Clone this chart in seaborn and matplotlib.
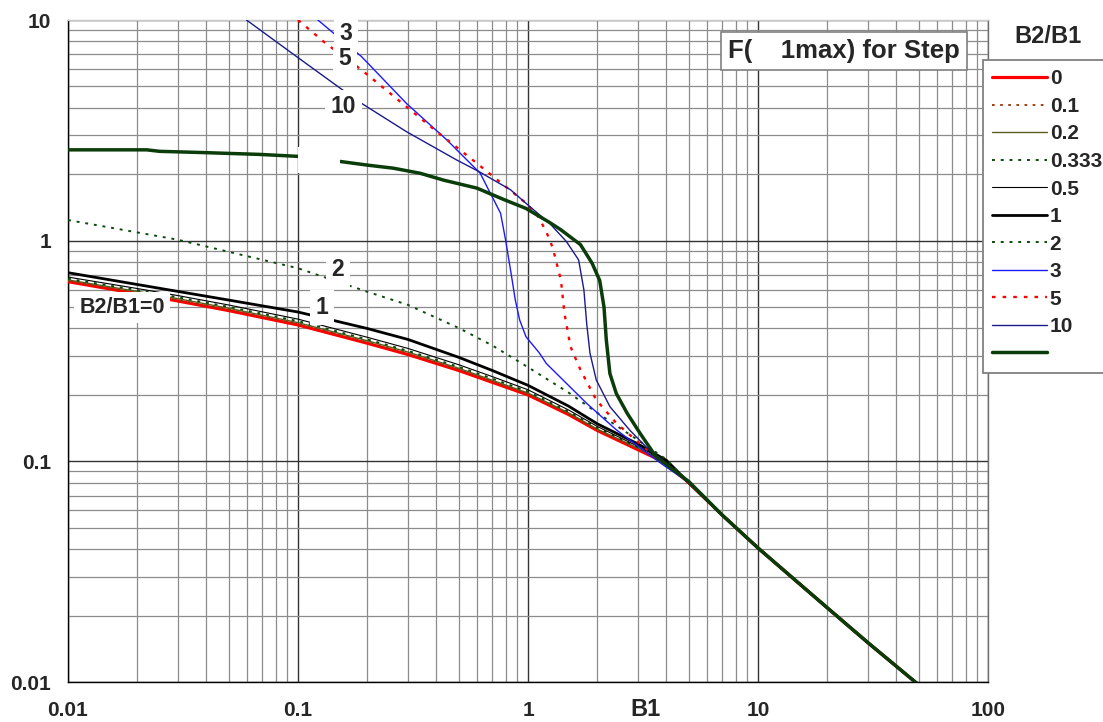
import matplotlib
matplotlib.use("Agg")
import matplotlib.pyplot as plt
from matplotlib.lines import Line2D
from matplotlib.patches import Rectangle
from matplotlib.ticker import LogLocator, NullFormatter, FixedLocator, FixedFormatter
import pandas as pd
import seaborn as sns

sns.set_style("white")
plt.rcParams["font.family"] = ["Liberation Sans", "DejaVu Sans"]
plt.rcParams["font.weight"] = "bold"

# ---- data: F(theta1max) against B1 for each B2/B1 ratio ----
b1_common = [0.01, 0.02, 0.03, 0.05, 0.1, 0.2, 0.3, 0.5, 0.7, 1, 1.5, 2, 3, 4,
             5, 7, 10, 15, 20, 30, 50]
f_r0 = [0.652, 0.575, 0.533, 0.482, 0.415, 0.343, 0.305, 0.258, 0.228, 0.200,
        0.163, 0.138, 0.113, 0.098, 0.080, 0.057, 0.0405, 0.0281, 0.0217, 0.0151, 0.0097]
f_r01 = [0.656, 0.580, 0.538, 0.487, 0.419, 0.347, 0.308, 0.261, 0.230, 0.202,
         0.164, 0.139, 0.114, 0.098, 0.080, 0.057, 0.0405, 0.0281, 0.0217, 0.0151, 0.0097]
f_r02 = [0.664, 0.589, 0.546, 0.494, 0.425, 0.352, 0.313, 0.264, 0.233, 0.204,
         0.166, 0.140, 0.115, 0.099, 0.080, 0.057, 0.0405, 0.0281, 0.0217, 0.0151, 0.0097]
f_r0333 = [0.672, 0.597, 0.554, 0.501, 0.432, 0.357, 0.317, 0.268, 0.237, 0.207,
           0.168, 0.142, 0.116, 0.099, 0.080, 0.057, 0.0405, 0.0281, 0.0217, 0.0151, 0.0097]
f_r05 = [0.684, 0.607, 0.564, 0.511, 0.441, 0.365, 0.325, 0.274, 0.242, 0.211,
         0.171, 0.144, 0.117, 0.100, 0.080, 0.057, 0.0405, 0.0281, 0.0217, 0.0151, 0.0097]
f_r1 = [0.716, 0.633, 0.589, 0.538, 0.475, 0.400, 0.357, 0.296, 0.258, 0.221,
        0.178, 0.148, 0.120, 0.101, 0.080, 0.057, 0.0405, 0.0281, 0.0217, 0.0151, 0.0097]
f_r2 = [1.24, 1.09, 1.01, 0.89, 0.75, 0.587, 0.512, 0.402, 0.335, 0.267,
        0.205, 0.166, 0.125, 0.102, 0.080, 0.057, 0.0405, 0.0281, 0.0217, 0.0151, 0.0097]

b1_r3 = [0.122, 0.189, 0.296, 0.444, 0.62, 0.67, 0.71, 0.76, 0.80, 0.85, 0.88, 0.92,
         0.98, 1.12, 1.2, 1.8, 2.42, 3.73, 5, 7, 10, 15, 20, 30, 50]
f_r3 = [10, 6.82, 4.19, 2.86, 2.02, 1.72, 1.53, 1.33, 1.0, 0.68, 0.54, 0.437,
        0.367, 0.31, 0.278, 0.183, 0.139, 0.099, 0.080, 0.057, 0.0405, 0.0281, 0.0217,
        0.0151, 0.0097]

b1_r5 = [0.1, 0.131, 0.189, 0.251, 0.394, 0.6, 0.98, 1.1, 1.2, 1.28, 1.39, 1.44, 1.53,
         1.69, 1.98, 2.42, 3.16, 3.8, 5, 7, 10, 15, 20, 30, 50]
f_r5 = [10, 7.89, 5.94, 4.66, 3.17, 2.24, 1.48, 1.30, 1.10, 0.93, 0.664, 0.469, 0.331,
        0.26, 0.19, 0.149, 0.117, 0.10, 0.080, 0.057, 0.0405, 0.0281, 0.0217, 0.0151, 0.0097]

b1_r10 = [0.0597, 0.0987, 0.155, 0.189, 0.296, 0.49, 0.61, 0.84, 1.0, 1.24, 1.47, 1.66,
          1.75, 1.8, 1.86, 1.98, 2.27, 2.76, 3.35, 3.9, 5, 7, 10, 15, 20, 30, 50]
f_r10 = [10, 6.82, 4.85, 4.19, 3.12, 2.32, 2.06, 1.70, 1.45, 1.2, 0.99, 0.818,
         0.598, 0.42, 0.309, 0.234, 0.177, 0.139, 0.113, 0.10, 0.080, 0.057, 0.0405,
         0.0281, 0.0217, 0.0151, 0.0097]

b1_inf = [0.01, 0.022, 0.025, 0.0375, 0.068, 0.1, 0.155, 0.2, 0.26, 0.34, 0.43, 0.6,
          0.78, 0.98, 1.24, 1.39, 1.69, 1.9, 2.05, 2.14, 2.19, 2.27, 2.42, 2.7, 3.07,
          3.6, 5, 7, 10, 15, 20, 30, 50]
f_inf = [2.58, 2.58, 2.54, 2.51, 2.46, 2.41, 2.28, 2.2, 2.13, 2.02, 1.88, 1.73,
         1.54, 1.40, 1.21, 1.12, 0.96, 0.79, 0.66, 0.50, 0.355, 0.25, 0.203, 0.165,
         0.134, 0.105, 0.081, 0.057, 0.0405, 0.0281, 0.0217, 0.0151, 0.0097]

legend_labels = ["0", "0.1", "0.2", "0.333", "0.5", "1", "2", "3", "5", "10", ""]
x_tick_values = [0.01, 0.1, 1, 10, 100]
x_tick_labels = ["0.01", "0.1", "1", "10", "100"]
y_tick_values = [0.01, 0.1, 1, 10]
y_tick_labels = ["0.01", "0.1", "1", "10"]

series = [
    (b1_common, f_r0),
    (b1_common, f_r01),
    (b1_common, f_r02),
    (b1_common, f_r0333),
    (b1_common, f_r05),
    (b1_common, f_r1),
    (b1_common, f_r2),
    (b1_r3, f_r3),
    (b1_r5, f_r5),
    (b1_r10, f_r10),
    (b1_inf, f_inf),
]
frames = [pd.DataFrame({"B1": xs, "F": ys, "ratio": lab})
          for (xs, ys), lab in zip(series, legend_labels)]

dot = (0, (1.5, 3.0))
styles = [
    dict(color="#ff0000", linewidth=2.3, linestyle="-"),
    dict(color="#993300", linewidth=1.3, linestyle=dot),
    dict(color="#5c5c1f", linewidth=1.0, linestyle="-"),
    dict(color="#0a4a0a", linewidth=1.4, linestyle=dot),
    dict(color="#000000", linewidth=0.8, linestyle="-"),
    dict(color="#000000", linewidth=2.0, linestyle="-"),
    dict(color="#0a4a0a", linewidth=1.4, linestyle=dot),
    dict(color="#1a1aff", linewidth=1.0, linestyle="-"),
    dict(color="#ff0000", linewidth=1.7, linestyle=dot),
    dict(color="#1a1a8c", linewidth=1.0, linestyle="-"),
    dict(color="#0b3d0b", linewidth=2.5, linestyle="-"),
]

fig = plt.figure(figsize=(11.03, 7.22), dpi=100)
ax = fig.add_axes([68 / 1103, 40 / 722, 920 / 1103, 662 / 722])
ax.set_xscale("log")
ax.set_yscale("log")

for df, st in zip(frames, styles):
    sns.lineplot(data=df, x="B1", y="F", ax=ax, estimator=None, sort=False,
                 legend=False, zorder=3, **st)

ax.set_xlim(0.01, 100)
ax.set_ylim(0.01, 10)

# grid: dark decades, grey subdivisions
ax.set_axisbelow(True)
ax.xaxis.set_major_locator(FixedLocator(x_tick_values))
ax.xaxis.set_major_formatter(FixedFormatter(x_tick_labels))
ax.yaxis.set_major_locator(FixedLocator(y_tick_values))
ax.yaxis.set_major_formatter(FixedFormatter(y_tick_labels))
ax.xaxis.set_minor_locator(LogLocator(base=10, subs=range(2, 10), numticks=20))
ax.yaxis.set_minor_locator(LogLocator(base=10, subs=range(2, 10), numticks=20))
ax.xaxis.set_minor_formatter(NullFormatter())
ax.yaxis.set_minor_formatter(NullFormatter())
ax.grid(True, which="major", color="#333333", linewidth=1.0)
ax.grid(True, which="minor", color="#8c8c8c", linewidth=0.9)

ax.tick_params(axis="x", which="both", direction="in", length=4, width=1,
               color="black", pad=14, labelsize=15)
ax.tick_params(axis="y", which="both", direction="out", length=4.3, width=1,
               color="black", pad=8, labelsize=15)
for lab in ax.get_xticklabels() + ax.get_yticklabels():
    lab.set_fontweight("bold")

ax.spines["left"].set_color("black")
ax.spines["bottom"].set_color("black")
ax.spines["top"].set_color("#c8c8c8")
ax.spines["right"].set_color("#6e6e6e")
for sp in ax.spines.values():
    sp.set_linewidth(1.0)
ax.set_xlabel("")
ax.set_ylabel("")

# in-plot curve labels on white boxes
box = dict(boxstyle="square,pad=0.25", fc="white", ec="none")
curve_labels = [("3", 0.1617, 8.73), ("5", 0.160, 6.66), ("10", 0.158, 4.04),
                ("2", 0.149, 0.737), ("1", 0.127, 0.498)]
for txt, xv, yv in curve_labels:
    ax.text(xv, yv, txt, ha="center", va="center", fontsize=16.5, fontweight="bold",
            bbox=box, zorder=6)
ax.text(0.0172, 0.498, "B2/B1=0", ha="center", va="center", fontsize=15.5,
        fontweight="bold", bbox=box, zorder=6)
ax.add_patch(Rectangle((0.1005, 2.02), 0.152 - 0.1005, 2.65 - 2.02, fc="white",
                       ec="none", zorder=6))

# title box
fig.text(844 / 1103, 1 - 51 / 722, "F(    1max) for Step", ha="center", va="center",
         fontsize=18.5, fontweight="bold",
         bbox=dict(boxstyle="square,pad=0.28", fc="white", ec="#808080", lw=1.2))

# x axis title
fig.text(645 / 1103, 1 - 709 / 722, "B1", ha="center", va="center",
         fontsize=17, fontweight="bold")

# legend
handles = [Line2D([], [], **st) for st in styles]
leg = fig.legend(handles, legend_labels, loc="upper left",
                 bbox_to_anchor=(983 / 1103, 1 - 60 / 722), borderaxespad=0,
                 fontsize=15, frameon=True, fancybox=False, framealpha=1,
                 edgecolor="#808080", handlelength=2.6, handletextpad=0.15,
                 borderpad=0.45, labelspacing=0.41)
leg.get_frame().set_linewidth(1.3)
for t in leg.get_texts():
    t.set_fontweight("bold")
fig.text(1048 / 1103, 1 - 36.5 / 722, "B2/B1", ha="center", va="center",
         fontsize=17, fontweight="bold")

fig.savefig("out.png", dpi=100, facecolor="white")
